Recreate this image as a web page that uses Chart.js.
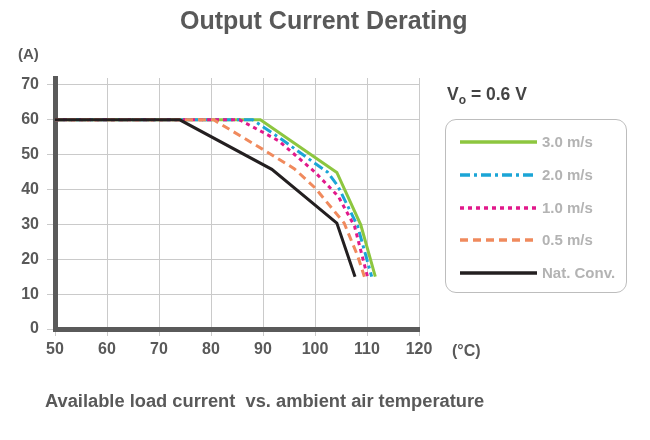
<!DOCTYPE html>
<html lang="en">
<head>
    <meta charset="UTF-8">
    <title>Output Current Derating</title>
    <script src="https://cdn.jsdelivr.net/npm/chart.js"></script>
    <style>
        body {
            margin: 0;
            font-family: "Liberation Sans", Arial, sans-serif;
            font-weight: bold;
            color: #595959;
        }
        .wrap {
            position: relative;
            width: 650px;
            height: 440px;
            background: #fff;
            overflow: hidden;
        }
        canvas {
            position: absolute;
            left: 0;
            top: 0;
        }
        .txt {
            position: absolute;
            white-space: nowrap;
        }
        #title { left: 180px; top: 6px; font-size: 25px; }
        #unitY { left: 18px; top: 45px; font-size: 15px; }
        #unitX { left: 452px; top: 342px; font-size: 16px; }
        #vout { left: 447px; top: 84px; font-size: 17.5px; color: #444; }
        #vout sub { font-size: 12px; vertical-align: -4px; }
        #caption { left: 45px; top: 390px; font-size: 18.3px; }
        #legend {
            position: absolute;
            left: 445px;
            top: 119px;
            width: 182px;
            height: 174px;
            border: 1px solid #bdbdbd;
            border-radius: 11px;
            box-sizing: border-box;
        }
        .item {
            position: absolute;
            left: 14px;
            height: 16px;
            font-size: 15px;
            color: #b3b3b3;
            white-space: nowrap;
        }
        .item svg { position: absolute; left: 0; top: 3px; }
        .item span { position: absolute; left: 82px; top: -1px; }
    </style>
</head>
<body>
<div class="wrap">
    <canvas id="derating" width="650" height="440"></canvas>
    <div class="txt" id="title">Output Current Derating</div>
    <div class="txt" id="unitY">(A)</div>
    <div class="txt" id="unitX">(°C)</div>
    <div class="txt" id="vout">V<sub>o</sub> = 0.6 V</div>
    <div class="txt" id="caption">Available load current&nbsp; vs. ambient air temperature</div>
    <div id="legend"></div>
</div>

<script>
    // ambient temperature (°C) / load current (A)
    const airflowLabels = ['3.0 m/s', '2.0 m/s', '1.0 m/s', '0.5 m/s', 'Nat. Conv.'];

    const temp30 = [50, 89.5, 104.2, 108.8, 111.6];
    const amps30 = [60, 60, 44.9, 29.9, 15];

    const temp20 = [50, 88, 93.5, 98.6, 102.4, 104.4, 108.2, 110.9];
    const amps20 = [60, 60, 54.5, 49, 45, 41, 29.5, 15];

    const temp10 = [50, 85.5, 93, 100, 104.5, 107.6, 110.1];
    const amps10 = [60, 60, 54, 45, 38, 29.5, 15];

    const temp05 = [50, 80.5, 90, 96, 100, 105.6, 108.2, 109.5];
    const amps05 = [60, 60, 51.5, 46, 40.5, 30.4, 21, 15];

    const tempNat = [50, 74, 91.7, 104.2, 107.7];
    const ampsNat = [60, 60, 45.8, 30.4, 15];

    const xTicks = [50, 60, 70, 80, 90, 100, 110, 120];
    const yTicks = [0, 10, 20, 30, 40, 50, 60, 70];

    const styles = [
        { color: '#8dc63f', dash: [] },
        { color: '#1ba5d6', dash: [10, 4, 3, 4] },
        { color: '#e1198b', dash: [4, 4] },
        { color: '#f08a5d', dash: [8, 5] },
        { color: '#231f20', dash: [] }
    ];

    function pts(xs, ys) {
        return xs.map((x, i) => ({ x: x, y: ys[i] }));
    }

    const series = [
        pts(temp30, amps30),
        pts(temp20, amps20),
        pts(temp10, amps10),
        pts(temp05, amps05),
        pts(tempNat, ampsNat)
    ];

    // 3.0 m/s at the bottom, nat. conv. drawn last (on top)
    const datasets = series.map((d, i) => ({
        label: airflowLabels[i],
        data: d,
        borderColor: styles[i].color,
        borderDash: styles[i].dash,
        borderWidth: 3,
        pointRadius: 0,
        tension: 0,
        order: series.length - i
    }));

    const axisFont = { family: '"Liberation Sans", Arial, sans-serif', size: 16, weight: 'bold' };

    new Chart(document.getElementById('derating'), {
        type: 'line',
        data: { datasets: datasets },
        options: {
            responsive: false,
            animation: false,
            layout: { padding: { left: 0, top: 78, right: 231, bottom: 79 } },
            plugins: { legend: { display: false }, tooltip: { enabled: false } },
            scales: {
                x: {
                    type: 'linear',
                    min: 50,
                    max: 120,
                    afterBuildTicks: s => { s.ticks = xTicks.map(v => ({ value: v })); },
                    afterFit: s => { s.height = 32; },
                    ticks: { font: axisFont, color: '#595959', padding: 4 },
                    grid: { color: '#cacaca', lineWidth: 1, tickLength: 7 },
                    border: { color: '#5a5a5a', width: 5 }
                },
                y: {
                    min: 0,
                    max: 72,
                    afterBuildTicks: s => { s.ticks = yTicks.map(v => ({ value: v })); },
                    afterFit: s => { s.width = 55; },
                    ticks: { font: axisFont, color: '#595959', padding: 8 },
                    grid: { color: '#cacaca', lineWidth: 1, tickLength: 8 },
                    border: { color: '#5a5a5a', width: 5 }
                }
            }
        }
    });

    // legend box built from the same series styles
    const legend = document.getElementById('legend');
    airflowLabels.forEach((name, i) => {
        const row = document.createElement('div');
        row.className = 'item';
        row.style.top = (14 + i * 32.8) + 'px';
        const dash = styles[i].dash.length ? styles[i].dash.join(' ') : 'none';
        row.innerHTML =
            '<svg width="78" height="10"><line x1="0" y1="5" x2="77" y2="5" stroke="' +
            styles[i].color + '" stroke-width="3.5" stroke-dasharray="' + dash + '"/></svg>' +
            '<span>' + name + '</span>';
        legend.appendChild(row);
    });
</script>
</body>
</html>
